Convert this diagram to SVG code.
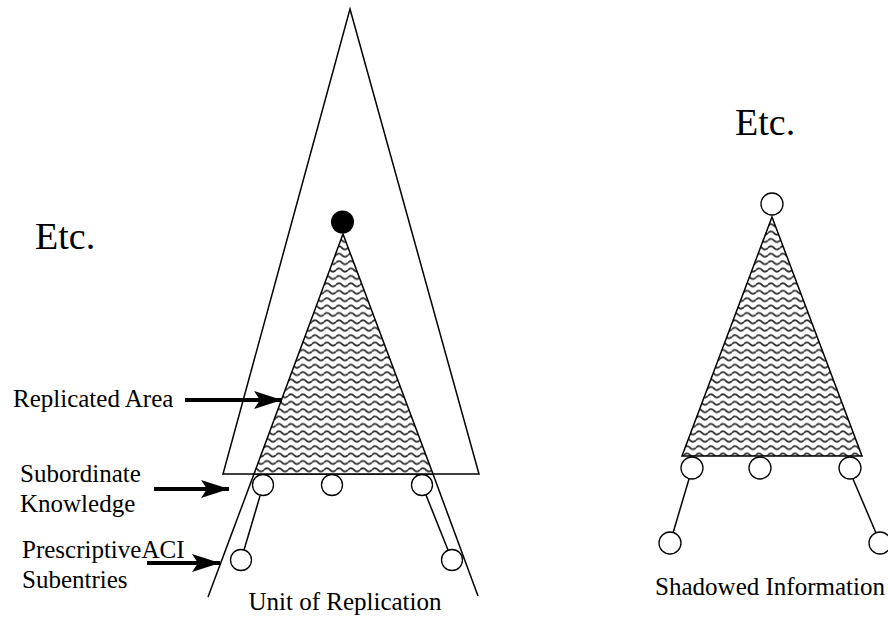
<svg xmlns="http://www.w3.org/2000/svg" width="888" height="617" viewBox="0 0 888 617">
<style>
.ln{fill:none;stroke:#000;stroke-width:1.5}
.nd{fill:#fff;stroke:#000;stroke-width:1.3}
.hat{fill:url(#wave);stroke:#000;stroke-width:1.5;stroke-linejoin:miter}
.t{font-family:"Liberation Serif","Times New Roman",serif;font-size:25px;fill:#000}
.big{font-size:38px}
.arr{stroke:#000;stroke-width:4;fill:none}
</style>
<defs>
<pattern id="wave" patternUnits="userSpaceOnUse" width="12" height="7.4">
<rect width="12" height="7.4" fill="#fff"/>
<path d="M0,3.7 Q3,0.5 6,3.7 T12,3.7" fill="none" stroke="#333" stroke-width="1.7"/>
</pattern>
<marker id="ah" markerUnits="userSpaceOnUse" markerWidth="28" markerHeight="18" refX="28" refY="9" orient="auto">
<path d="M0,0 L28,9 L0,18 L6,9 Z" fill="#000"/>
</marker>
</defs>

<g id="unit-area">
<polygon class="ln" points="350,9 479,474 223,474"/>
</g>
<g id="replicated-area">
<polygon class="hat" points="343,234 433,474 254,474"/>
</g>
<g id="connectors">
<line class="ln" x1="254" y1="474" x2="208" y2="597"/>
<line class="ln" x1="433" y1="474" x2="478" y2="596"/>
<line class="ln" x1="260" y1="496" x2="244" y2="550"/>
<line class="ln" x1="426" y1="495" x2="448" y2="550"/>
<line class="ln" x1="689" y1="479" x2="673" y2="533"/>
<line class="ln" x1="853" y1="479" x2="876" y2="533"/>
<line class="arr" x1="185" y1="400" x2="282" y2="400" marker-end="url(#ah)"/>
<line class="arr" x1="154" y1="489" x2="229" y2="489" marker-end="url(#ah)"/>
<line class="arr" x1="147" y1="563" x2="220" y2="563" marker-end="url(#ah)"/>
</g>
<g id="root-entry"><circle cx="342.5" cy="222" r="11.5" fill="#000"/></g>
<g id="sub1"><circle class="nd" cx="263" cy="485" r="10.5"/></g>
<g id="sub2"><circle class="nd" cx="332" cy="485" r="10.5"/></g>
<g id="sub3"><circle class="nd" cx="422" cy="485" r="10.5"/></g>
<g id="aci1"><circle class="nd" cx="241" cy="560" r="10.5"/></g>
<g id="aci2"><circle class="nd" cx="452" cy="560" r="10.5"/></g>

<g id="shadow-area">
<polygon class="hat" points="772,217 862,456 682,456"/>
</g>
<g id="shadow-top"><circle class="nd" cx="772" cy="204" r="11"/></g>
<g id="shadow-sub1"><circle class="nd" cx="692" cy="468" r="11"/></g>
<g id="shadow-sub2"><circle class="nd" cx="760" cy="468" r="11"/></g>
<g id="shadow-sub3"><circle class="nd" cx="850" cy="468" r="11"/></g>
<g id="shadow-low1"><circle class="nd" cx="670" cy="543" r="11"/></g>
<g id="shadow-low2"><circle class="nd" cx="880" cy="543" r="11"/></g>

<g id="labels">
<text class="t big" x="35" y="249">Etc.</text>
<text class="t big" x="735" y="135">Etc.</text>
<text class="t" x="13" y="407">Replicated Area</text>
<text class="t" x="20" y="482">Subordinate</text>
<text class="t" x="20" y="512">Knowledge</text>
<text class="t" x="22" y="558">PrescriptiveACI</text>
<text class="t" x="22" y="588">Subentries</text>
<text class="t" x="345" y="610" text-anchor="middle">Unit of Replication</text>
<text class="t" x="770" y="595" text-anchor="middle">Shadowed Information</text>
</g>
</svg>
